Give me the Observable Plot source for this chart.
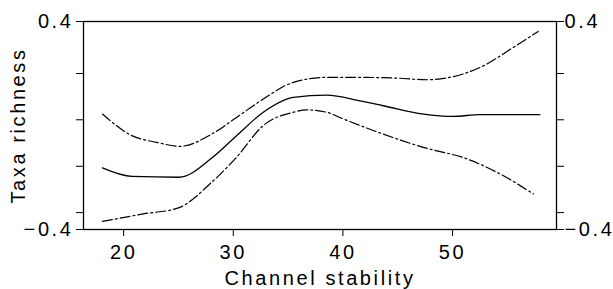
<!DOCTYPE html>
<html>
<head>
<meta charset="utf-8">
<script src="https://cdn.jsdelivr.net/npm/d3@7"></script>
<script src="https://cdn.jsdelivr.net/npm/@observablehq/plot@0.6"></script>
<style>
  html, body { margin: 0; padding: 0; background: #fff; }
  svg { font-family: "Liberation Sans", Arial, sans-serif; }
</style>
</head>
<body>
<div id="chart"></div>
<script>
// Fitted curve (solid)
const fitX = [18.07, 20.75, 25.06, 28.04, 30.3, 32.74, 35.48, 38.52, 41.56, 43.68, 47.33, 50.06, 52.5, 57.97];
const fitY = [-0.163, -0.196, -0.199, -0.125, -0.039, 0.051, 0.108, 0.117, 0.095, 0.076, 0.044, 0.035, 0.042, 0.042];
// Upper confidence band (dash-dot)
const upX = [18.07, 20.75, 23.03, 25.15, 28.04, 30.3, 32.74, 35.48, 38.52, 41.56, 45.0, 47.64, 49.46, 52.5, 55.53, 57.81];
const upY = [0.044, -0.039, -0.065, -0.08, -0.033, 0.031, 0.102, 0.166, 0.185, 0.185, 0.182, 0.176, 0.183, 0.223, 0.3, 0.362];
// Lower confidence band (dash-dot)
const loX = [18.07, 21.8, 25.0, 28.04, 30.3, 32.74, 35.48, 36.7, 38.52, 40.04, 43.68, 47.33, 51.28, 54.32, 57.36];
const loY = [-0.369, -0.34, -0.317, -0.218, -0.122, 0.0, 0.051, 0.06, 0.051, 0.025, -0.033, -0.084, -0.128, -0.186, -0.263];

const xTicks = [20, 30, 40, 50];
const yTicks = [-0.4, -0.335, -0.157, 0.022, 0.2, 0.4];
const yLabeled = [-0.4, 0.4];
const xTitle = "Channel stability";
const yTitle = "Taxa richness";

const toRows = (xs, ys) => xs.map((x, i) => ({x, y: ys[i]}));
const fit = toRows(fitX, fitY);
const up = toRows(upX, upY);
const lo = toRows(loX, loY);

const yFmt = d => yLabeled.includes(d) ? d3.format(".1f")(d).replace("-", "\u2212") : "";
const dash = "10,3,2,3";

const chart = Plot.plot({
  width: 613,
  height: 289,
  marginLeft: 83,
  marginRight: 57,
  marginTop: 21,
  marginBottom: 60,
  style: {fontSize: "20px", fontFamily: "'Liberation Sans', Arial, sans-serif", letterSpacing: "2.6px", color: "#000", background: "#fff"},
  x: {domain: [16.34, 59.48]},
  y: {domain: [-0.4, 0.4]},
  marks: [
    Plot.frame({stroke: "#000", strokeWidth: 1.3}),
    Plot.axisX({ticks: xTicks, tickSize: 7, tickPadding: 8, tickFormat: d3.format("d"), style: {letterSpacing: "3px"},
      label: xTitle, labelAnchor: "center", labelArrow: "none", labelOffset: 55}),
    Plot.axisY({anchor: "left", ticks: yTicks, tickSize: 7, tickPadding: 3, tickFormat: yFmt, style: {letterSpacing: "3px"},
      label: null}),
    Plot.axisY({anchor: "left", ticks: [], tickSize: 0,
      label: yTitle, labelAnchor: "center", labelArrow: "none", labelOffset: 73}),
    Plot.axisY({anchor: "right", ticks: yTicks, tickSize: 7, tickPadding: 1, tickFormat: yFmt, style: {letterSpacing: "3px"}, label: null}),
    Plot.line(up, {x: "x", y: "y", curve: "monotone-x", stroke: "#000", strokeWidth: 1.2, strokeDasharray: dash}),
    Plot.line(lo, {x: "x", y: "y", curve: "monotone-x", stroke: "#000", strokeWidth: 1.2, strokeDasharray: dash}),
    Plot.line(fit, {x: "x", y: "y", curve: "monotone-x", stroke: "#000", strokeWidth: 1.3})
  ]
});
document.getElementById("chart").appendChild(chart);
</script>
</body>
</html>
